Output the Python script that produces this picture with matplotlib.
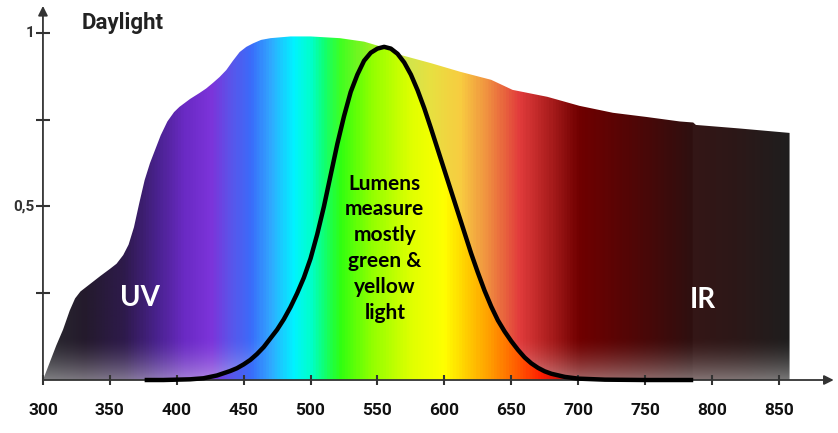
import numpy as np
import matplotlib
matplotlib.use("Agg")
import matplotlib.pyplot as plt
from matplotlib.colors import LinearSegmentedColormap
from matplotlib.patches import Polygon

# daylight spectrum (relative)
day_nm = [300, 305, 310, 315, 320, 324, 328, 333, 338, 343, 350, 355, 360,
          364, 368, 372, 376, 380, 384, 388, 393, 398, 402, 410, 417, 422,
          427, 432, 437, 442, 447, 452, 457, 463, 470, 485, 500, 522, 540,
          555, 567, 590, 612, 635, 651, 677, 701, 726, 751, 776, 786, 788,
          820, 858]
day_val = [0.0, 0.05, 0.10, 0.145, 0.20, 0.235, 0.255, 0.27, 0.285, 0.30,
           0.32, 0.335, 0.36, 0.39, 0.44, 0.51, 0.576, 0.625, 0.665, 0.705,
           0.745, 0.772, 0.787, 0.81, 0.827, 0.84, 0.856, 0.873, 0.893, 0.92,
           0.945, 0.96, 0.97, 0.98, 0.985, 0.99, 0.99, 0.985, 0.975, 0.958,
           0.937, 0.913, 0.888, 0.865, 0.836, 0.816, 0.79, 0.77, 0.758, 0.745,
           0.742, 0.735, 0.725, 0.712]

# eye sensitivity (lumens) curve
lum_nm = [376, 390, 400, 410, 420, 430, 440, 445, 450, 455, 460, 465, 470,
          475, 480, 485, 490, 495, 500, 505, 510, 515, 520, 525, 530, 535,
          540, 545, 550, 555, 560, 565, 570, 575, 580, 585, 590, 595, 600,
          605, 610, 615, 620, 625, 630, 635, 640, 645, 650, 655, 660, 665,
          670, 675, 680, 690, 700, 720, 750, 786]
lum_val = [0.0, 0.0, 0.001, 0.002, 0.005, 0.013, 0.026, 0.034, 0.045, 0.058,
           0.075, 0.095, 0.12, 0.145, 0.175, 0.21, 0.25, 0.295, 0.35, 0.42,
           0.50, 0.59, 0.68, 0.76, 0.83, 0.88, 0.92, 0.943, 0.955, 0.96,
           0.955, 0.94, 0.915, 0.88, 0.835, 0.783, 0.725, 0.665, 0.605, 0.545,
           0.485, 0.425, 0.365, 0.31, 0.258, 0.212, 0.172, 0.14, 0.112, 0.087,
           0.065, 0.048, 0.035, 0.025, 0.018, 0.009, 0.004, 0.001, 0.0, 0.0]

x_ticks = [300, 350, 400, 450, 500, 550, 600, 650, 700, 750, 800, 850]
y_ticks = [0.25, 0.5, 0.75, 1.0]
y_labels = {0.5: "0,5", 1.0: "1"}

vivid_stops = [
    (300, "#2b2b30"), (330, "#241a2c"), (360, "#2e1a4c"), (385, "#4a2290"),
    (405, "#6a2ac4"), (425, "#7c34da"), (440, "#5a55ea"), (455, "#3a6cfa"),
    (470, "#30aaff"), (487, "#00f4ff"), (500, "#00ffc8"), (510, "#10ff70"),
    (522, "#30ff10"), (545, "#90ff00"), (575, "#e0ff00"), (600, "#ffff00"),
    (615, "#ffd200"), (635, "#ff9a00"), (655, "#ff5a00"), (672, "#ff2000"),
    (690, "#c01010"), (710, "#780000"), (740, "#560606"), (770, "#3c0c0c"),
    (786, "#2e1010"), (787, "#341616"), (820, "#2c1818"), (860, "#1e1e1e"),
]
muted_stops = [
    (300, "#2b2b30"), (330, "#241a2c"), (360, "#2e1a4c"), (385, "#4a2290"),
    (405, "#6a2ac4"), (425, "#7c34da"), (440, "#5a55ea"), (455, "#3a6cfa"),
    (470, "#30aaff"), (487, "#00f4ff"), (500, "#00ffc8"), (510, "#10ff70"),
    (522, "#40ff20"), (545, "#98f020"), (565, "#c8e850"), (590, "#e8e040"),
    (612, "#f8cc40"), (632, "#f09040"), (656, "#e23c3c"), (677, "#b02020"),
    (701, "#700000"), (740, "#520606"), (770, "#3a0c0c"),
    (786, "#2e1010"), (787, "#341616"), (820, "#2c1818"), (860, "#1e1e1e"),
]

lo, hi = 300, 860


def make_cmap(stops, name):
    return LinearSegmentedColormap.from_list(
        name, [((nm - lo) / (hi - lo), c) for nm, c in stops])


fig = plt.figure(figsize=(8.38, 4.33), dpi=100)
ax = fig.add_axes([0, 0, 1, 1])
ax.set_xlim(267.9, 894.2)
ax.set_ylim(-0.1527, 1.095)
ax.axis("off")

cols = np.linspace(0, 1, 800)
rows = np.linspace(0, 1, 300)

# base layer: muted spectrum, fading to light grey at the bottom
base = make_cmap(muted_stops, "muted")(cols)[:, :3]
fade = 0.42 * np.clip(1 - rows / 0.12, 0, 1) ** 1.5
img = base[None, :, :] * (1 - fade[:, None, None]) + 0.95 * fade[:, None, None]
day_poly = Polygon(list(zip(day_nm, day_val)) + [(day_nm[-1], 0), (day_nm[0], 0)],
                   closed=True, fc="none", ec="none")
ax.add_patch(day_poly)
im = ax.imshow(img, extent=[lo, hi, 0, 1], origin="lower", aspect="auto",
               interpolation="bilinear", zorder=1)
im.set_clip_path(day_poly)

# vivid spectrum inside the lumens curve
vivid = make_cmap(vivid_stops, "vivid")(cols)[:, :3]
lum_poly = Polygon(list(zip(lum_nm, lum_val)), closed=True, fc="none", ec="none")
ax.add_patch(lum_poly)
im2 = ax.imshow(np.repeat(vivid[None, :, :], 4, axis=0), extent=[lo, hi, 0, 1],
                origin="lower", aspect="auto", interpolation="bilinear", zorder=2)
im2.set_clip_path(lum_poly)

# axes with arrows
axis_col = "#333333"
ax.annotate("", xy=(300, 1.078), xytext=(300, 0),
            arrowprops=dict(arrowstyle="-|>", color=axis_col, lw=1.3,
                            mutation_scale=14, shrinkA=0, shrinkB=0), zorder=4)
ax.annotate("", xy=(891, 0), xytext=(300, 0),
            arrowprops=dict(arrowstyle="-|>", color=axis_col, lw=1.3,
                            mutation_scale=14, shrinkA=0, shrinkB=0), zorder=4)
ax.plot(x_ticks, [0] * len(x_ticks), ls="none", marker="|", ms=7, mew=1.5,
        color=axis_col, zorder=4)
ax.plot([300] * len(y_ticks), y_ticks, ls="none", marker="_", ms=10, mew=1.5,
        color=axis_col, zorder=4)

ax.plot(lum_nm, lum_val, color="black", lw=3.2, solid_joinstyle="round",
        solid_capstyle="butt", zorder=5)

for t in x_ticks:
    ax.text(t, -0.087, str(t), ha="center", va="center", fontsize=12.5,
            fontweight="bold", family="Roboto", color="#111111")
for v, s in y_labels.items():
    ax.text(293.5, v, s, ha="right", va="center", fontsize=11,
            fontweight="bold", family="Roboto", color="#333333")

ax.text(329, 1.028, "Daylight", ha="left", va="center", fontsize=16,
        fontweight="bold", family="Roboto", color="#222222")
ax.text(372.5, 0.236, "UV", ha="center", va="center", fontsize=20,
        fontweight="bold", family="Lato", color="white", zorder=6)
ax.text(793, 0.23, "IR", ha="center", va="center", fontsize=20,
        fontweight="bold", family="Lato", color="white", zorder=6)
ax.text(555.5, 0.38, "Lumens\nmeasure\nmostly\ngreen &\nyellow\nlight",
        ha="center", va="center", fontsize=15, fontweight="bold",
        family="Lato", color="black", linespacing=1.36, zorder=6)

fig.savefig("out.png", dpi=100)
